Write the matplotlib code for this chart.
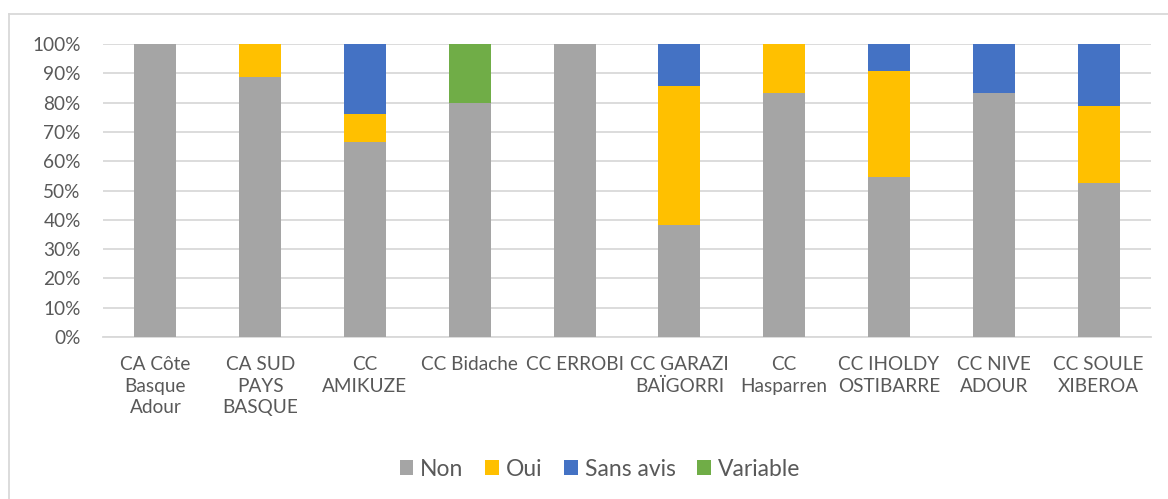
import numpy as np
import matplotlib.pyplot as plt
from matplotlib.patches import Patch
from matplotlib.lines import Line2D

plt.rcParams['font.family'] = ['Lato', 'DejaVu Sans']

communautes = ['CA Côte\nBasque\nAdour', 'CA SUD\nPAYS\nBASQUE', 'CC\nAMIKUZE', 'CC Bidache',
               'CC ERROBI', 'CC GARAZI\nBAÏGORRI', 'CC\nHasparren', 'CC IHOLDY\nOSTIBARRE',
               'CC NIVE\nADOUR', 'CC SOULE\nXIBEROA']

# parts des réponses (en %)
non = [100.0, 88.9, 66.7, 80.0, 100.0, 38.1, 83.3, 54.5, 83.3, 52.6]
oui = [0.0, 11.1, 9.5, 0.0, 0.0, 47.6, 16.7, 36.4, 0.0, 26.3]
sans_avis = [0.0, 0.0, 23.8, 0.0, 0.0, 14.3, 0.0, 9.1, 16.7, 21.1]
variable = [0.0, 0.0, 0.0, 20.0, 0.0, 0.0, 0.0, 0.0, 0.0, 0.0]

series = [('Non', non, '#A5A5A5'), ('Oui', oui, '#FFC000'),
          ('Sans avis', sans_avis, '#4472C4'), ('Variable', variable, '#70AD47')]

W, H = 1168, 499
fig = plt.figure(figsize=(W / 100, H / 100), dpi=100)
# cadre du graphique (bords haut et gauche seulement visibles)
fig.add_artist(Line2D([9 / W, 1.0], [1 - 14 / H, 1 - 14 / H], transform=fig.transFigure,
                      color='#D9D9D9', linewidth=1.3))
fig.add_artist(Line2D([9 / W, 9 / W], [0.0, 1 - 14 / H], transform=fig.transFigure,
                      color='#D9D9D9', linewidth=1.3))

ax = fig.add_axes([103 / W, 1 - 337 / H, (1151 - 103) / W, (337 - 44) / H])

x = np.arange(len(communautes))
bottom = np.zeros(len(communautes))
handles = []
for name, vals, color in series:
    vals = np.array(vals)
    ax.bar(x, vals, 0.4, bottom=bottom, color=color, zorder=3)
    bottom += vals
    handles.append(Patch(facecolor=color, label=name))

ax.set_xlim(-0.5, len(communautes) - 0.5)
ax.set_ylim(0, 100)
ax.set_yticks(np.arange(0, 101, 10))
ax.set_yticklabels([f'{v}%' for v in range(0, 101, 10)])
ax.set_xticks(x)
ax.set_xticklabels(communautes, linespacing=1.32)

ax.grid(axis='y', color='#D9D9D9', linewidth=1.3, zorder=0)
for s in ['top', 'right', 'left']:
    ax.spines[s].set_visible(False)
ax.spines['bottom'].set_color('#D9D9D9')
ax.spines['bottom'].set_linewidth(1.3)
ax.tick_params(axis='both', length=0, labelsize=13.7, colors='#595959')
ax.tick_params(axis='x', pad=14)
ax.tick_params(axis='y', pad=16)

fig.legend(handles=handles, loc='center', bbox_to_anchor=(600 / W, 1 - 469 / H), ncol=4,
           frameon=False, fontsize=16.5, labelcolor='#595959', handlelength=0.6,
           handleheight=0.6, handletextpad=0.3, columnspacing=0.95)

fig.savefig('out.png', dpi=100)
